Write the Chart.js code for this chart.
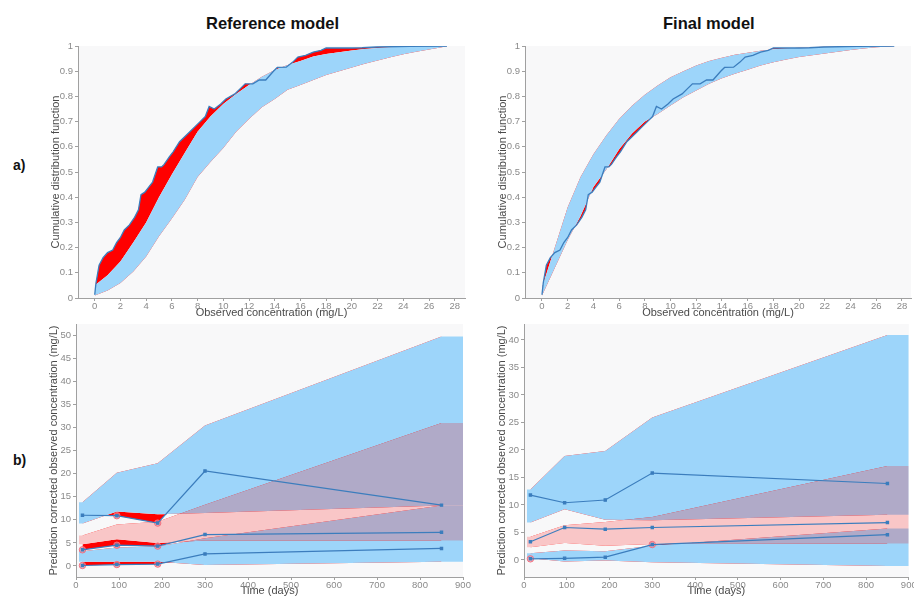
<!DOCTYPE html>
<html>
<head>
<meta charset="utf-8">
<script src="https://cdn.jsdelivr.net/npm/chart.js@4.4.0/dist/chart.umd.min.js"></script>
<style>
  body { margin: 0; width: 914px; height: 596px; background: #fff; position: relative; overflow: hidden; font-family: "Liberation Sans", Arial, sans-serif; }
  canvas { position: absolute; }
  .title { position: absolute; font-weight: bold; font-size: 16.5px; line-height: 18px; color: #111; white-space: nowrap; }
  .tag { position: absolute; font-weight: bold; font-size: 14px; line-height: 16px; color: #111; }
</style>
</head>
<body>
<div class="title" style="left:206px; top:14px;">Reference model</div>
<div class="title" style="left:663px; top:14px;">Final model</div>
<div class="tag" style="left:13px; top:157px;">a)</div>
<div class="tag" style="left:13px; top:452px;">b)</div>

<canvas id="cdfRef" width="432" height="284" style="left:40px; top:36px;"></canvas>
<canvas id="cdfFin" width="427" height="284" style="left:487px; top:36px;"></canvas>
<canvas id="vpcRef" width="438" height="284" style="left:38px; top:314px;"></canvas>
<canvas id="vpcFin" width="428" height="284" style="left:486px; top:314px;"></canvas>

<script>
// a) cumulative distribution of observed concentrations vs simulated band
const cdfGrid = [0, 1, 2, 3, 4, 5, 6, 7, 8, 9, 10, 11, 12, 13, 14, 15, 16, 17, 18, 19, 20, 21, 22, 23, 24, 25, 26, 27, 27.4];
const refLower = [0.01, 0.03, 0.06, 0.105, 0.165, 0.245, 0.315, 0.39, 0.48, 0.54, 0.595, 0.66, 0.71, 0.757, 0.79, 0.826, 0.845, 0.865, 0.885, 0.9, 0.915, 0.93, 0.942, 0.955, 0.967, 0.977, 0.986, 0.995, 1];
const refUpper = [0.05, 0.09, 0.145, 0.22, 0.30, 0.40, 0.49, 0.575, 0.66, 0.72, 0.77, 0.81, 0.845, 0.878, 0.905, 0.925, 0.94, 0.958, 0.968, 0.975, 0.982, 0.988, 0.992, 0.995, 0.998, 1, 1, 1, 1];
const finLower = [0.01, 0.12, 0.23, 0.325, 0.44, 0.51, 0.59, 0.653, 0.70, 0.73, 0.764, 0.797, 0.823, 0.85, 0.872, 0.89, 0.906, 0.923, 0.936, 0.946, 0.956, 0.963, 0.97, 0.977, 0.984, 0.99, 0.995, 0.998, 1];
const finUpper = [0.04, 0.2, 0.36, 0.48, 0.57, 0.645, 0.71, 0.763, 0.807, 0.843, 0.876, 0.9, 0.923, 0.94, 0.953, 0.965, 0.973, 0.981, 0.987, 0.99, 0.993, 0.995, 0.997, 0.998, 1, 1, 1, 1, 1];

const obsConc = [0, 0.1, 0.34, 0.65, 1.0, 1.4, 1.7, 2.0, 2.3, 2.7, 3.1, 3.4, 3.6, 3.9, 4.2, 4.5, 4.9, 5.2, 5.4, 5.8, 6.1, 6.6, 7.0, 7.4, 7.8, 8.2, 8.6, 8.9, 9.3, 9.8, 10.2, 10.9, 11.3, 11.7, 12.3, 12.8, 13.3, 13.9, 14.2, 14.9, 15.4, 15.8, 16.4, 17.0, 17.6, 18.0, 20.0, 20.8, 21.9, 24.5, 27.4];
const obsCdf = [0.013, 0.06, 0.13, 0.16, 0.18, 0.19, 0.22, 0.24, 0.27, 0.29, 0.32, 0.35, 0.41, 0.42, 0.44, 0.46, 0.52, 0.52, 0.53, 0.56, 0.58, 0.62, 0.64, 0.66, 0.68, 0.70, 0.72, 0.76, 0.75, 0.77, 0.79, 0.81, 0.83, 0.85, 0.85, 0.865, 0.865, 0.90, 0.915, 0.916, 0.936, 0.956, 0.963, 0.976, 0.983, 0.992, 0.992, 0.993, 0.996, 0.999, 1.0];

// b) VPC: percentile bands per time bin (first/last entries are the bin edges)
const bandDays = [7, 15, 95, 190, 300, 850, 900];
const obsDays = [15, 95, 190, 300, 850];

const ref95Low = [9.2, 9.2, 11.8, 11.2, 11.5, 13.1, 13.1];
const ref95High = [13.8, 13.8, 20.2, 22.3, 30.5, 49.8, 49.8];
const ref50Low = [4.7, 4.7, 5.8, 5.0, 5.5, 5.5, 5.5];
const ref50High = [6.6, 6.6, 9.0, 9.6, 13.3, 31.0, 31.0];
const ref05Low = [0.9, 0.9, 0.9, 0.9, 0.2, 0.9, 0.9];
const ref05High = [3.2, 3.2, 4.0, 4.2, 6.0, 13.1, 13.1];
const refObs95 = [11.0, 10.9, 9.3, 20.6, 13.2];
const refObs50 = [3.5, 4.5, 4.3, 6.8, 7.3];
const refObs05 = [0.1, 0.3, 0.4, 2.6, 3.8];

const fin95Low = [6.8, 6.8, 9.2, 7.3, 7.2, 8.2, 8.2];
const fin95High = [12.8, 12.8, 18.9, 19.8, 25.9, 40.9, 40.9];
const fin50Low = [2.3, 2.3, 3.1, 2.6, 2.9, 3.0, 3.0];
const fin50High = [4.2, 4.2, 6.3, 6.9, 7.8, 17.1, 17.1];
const fin05Low = [0.3, 0.3, -0.3, -0.1, -0.4, -1.1, -1.1];
const fin05High = [1.2, 1.2, 1.7, 1.6, 2.6, 5.7, 5.7];
const finObs95 = [11.8, 10.4, 10.9, 15.8, 13.9];
const finObs50 = [3.3, 5.9, 5.6, 5.9, 6.8];
const finObs05 = [0.2, 0.3, 0.5, 2.8, 4.6];

const BLUE = '#9dd5fa';
const PINK = 'rgba(255, 0, 0, 0.2)';   // drawn over blue it turns purple-grey
const RED = '#ff0000';
const LINE = '#3b7dbd';

Chart.defaults.font.family = '"Liberation Sans Narrow", "Liberation Sans", sans-serif';

const plotBackground = {
    id: 'plotBackground',
    beforeDraw(chart) {
        const { ctx, chartArea: a } = chart;
        ctx.save();
        ctx.fillStyle = '#f8f8f9';
        ctx.fillRect(a.left, a.top, a.width, a.height);
        ctx.restore();
    }
};

function pts(xs, ys) {
    return xs.map((x, i) => ({ x: x, y: ys[i] }));
}

function axis(min, max, step, title, size, horizontal, fmt) {
    return {
        type: 'linear',
        min: min,
        max: max,
        bounds: 'data',
        border: { color: '#a0a0a0', width: 1 },
        grid: { drawOnChartArea: false, tickLength: 3, color: '#a0a0a0' },
        ticks: {
            autoSkip: false, maxRotation: 0,
            padding: horizontal ? 0 : 2,
            color: '#8a8a8a', font: { size: 9.5 },
            callback: fmt || (v => String(v))
        },
        title: {
            display: true, text: title, color: '#4a4a4a', font: { size: 11 },
            padding: horizontal ? { top: 0, bottom: 0 } : { top: 9, bottom: 0 }
        },
        // ticks at whole multiples of the step, starting from 0
        afterBuildTicks(s) {
            const list = [];
            for (let i = 0; i * step <= max + 1e-9; i++) list.push({ value: Math.round(i * step * 1000) / 1000 });
            s.ticks = list;
        },
        afterFit(s) {
            if (horizontal) {
                s.height = size;
                s.paddingLeft = 0;
                s.paddingRight = 0;
            } else {
                s.width = size;
                s.paddingTop = 0;
                s.paddingBottom = 0;
            }
        }
    };
}

function baseOptions(xAxis, yAxis, rightPad) {
    return {
        responsive: false,
        animation: false,
        events: [],
        layout: { padding: { top: 10, right: rightPad, left: 0, bottom: 0 } },
        plugins: { legend: { display: false }, tooltip: { enabled: false } },
        scales: { x: xAxis, y: yAxis }
    };
}

const hidden = { borderWidth: 0, borderColor: 'transparent', pointRadius: 0 };

function cdfChart(canvasId, lower, upper, xMin, xMax, rightPad) {
    new Chart(document.getElementById(canvasId), {
        type: 'line',
        data: {
            datasets: [
                { ...hidden, data: pts(cdfGrid, lower), fill: '+1', backgroundColor: BLUE, order: 10 },
                { ...hidden, data: pts(cdfGrid, upper), fill: false, order: 10 },
                { ...hidden, data: pts(obsConc, obsCdf), fill: { target: 1, above: RED, below: 'transparent' }, order: 5 },
                { ...hidden, data: pts(obsConc, obsCdf), fill: { target: 0, above: 'transparent', below: RED }, order: 5 },
                { data: pts(obsConc, obsCdf), fill: false, borderColor: LINE, borderWidth: 1.3, pointRadius: 0, order: 1 }
            ]
        },
        options: baseOptions(
            axis(xMin, xMax, 2, 'Observed concentration (mg/L)', 22, true),
            axis(0, 1, 0.1, 'Cumulative distribution function', 38, false),
            rightPad
        ),
        plugins: [plotBackground]
    });
}

function vpcChart(canvasId, bands, observed, yMin, yMax, rightPad) {
    const datasets = [];
    bands.forEach(b => {
        const ord = b[2] === PINK ? 9 : 10;
        datasets.push({ ...hidden, data: pts(bandDays, b[0]), fill: '+1', backgroundColor: b[2], order: ord });
        datasets.push({ ...hidden, data: pts(bandDays, b[1]), fill: false, order: ord });
    });
    observed.forEach((o, k) => {
        datasets.push({ ...hidden, data: pts(obsDays, o), fill: { target: 2 * k + 1, above: RED, below: 'transparent' }, order: 5 });
        datasets.push({ ...hidden, data: pts(obsDays, o), fill: { target: 2 * k, above: 'transparent', below: RED }, order: 5 });
    });
    const outliers = [];
    observed.forEach((o, k) => {
        o.forEach((v, j) => {
            if (v < bands[k][0][j + 1] || v > bands[k][1][j + 1]) outliers.push({ x: obsDays[j], y: v });
        });
    });
    datasets.push({
        data: outliers, showLine: false, pointStyle: 'circle', pointRadius: 3.2,
        pointBorderColor: '#f07080', pointBackgroundColor: 'rgba(255,140,150,0.6)', pointBorderWidth: 1, order: 3
    });
    observed.forEach(o => {
        datasets.push({
            data: pts(obsDays, o), fill: false, borderColor: LINE, borderWidth: 1.2,
            pointStyle: 'rect', pointRadius: 1.6, pointBackgroundColor: LINE, pointBorderColor: LINE, order: 1
        });
    });
    new Chart(document.getElementById(canvasId), {
        type: 'line',
        data: { datasets: datasets },
        options: baseOptions(
            axis(0, 900, 100, 'Time (days)', 21, true),
            axis(yMin, yMax, 5, 'Prediction corrected observed concentration (mg/L)', 38, false),
            rightPad
        ),
        plugins: [plotBackground]
    });
}

cdfChart('cdfRef', refLower, refUpper, -1.3, 28.8, 7);
cdfChart('cdfFin', finLower, finUpper, -1.32, 28.7, 3);

vpcChart('vpcRef',
    [[ref95Low, ref95High, BLUE], [ref50Low, ref50High, PINK], [ref05Low, ref05High, BLUE]],
    [refObs95, refObs50, refObs05], -2.4, 52.5, 13);
vpcChart('vpcFin',
    [[fin95Low, fin95High, BLUE], [fin50Low, fin50High, PINK], [fin05Low, fin05High, BLUE]],
    [finObs95, finObs50, finObs05], -3.1, 42.9, 3);
</script>
</body>
</html>
